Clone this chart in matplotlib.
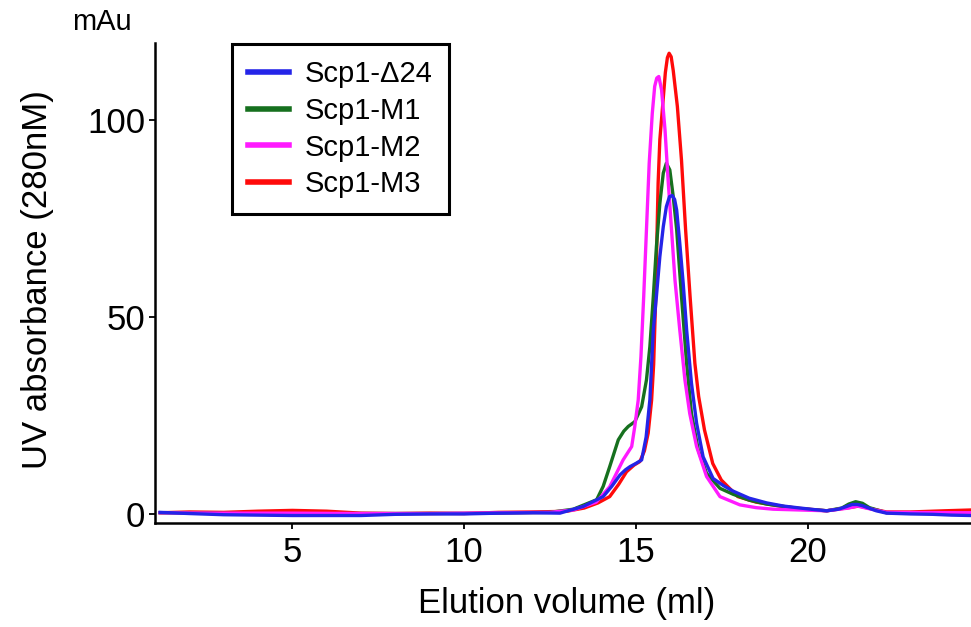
import matplotlib
matplotlib.use('Agg')
import matplotlib.pyplot as plt

plt.rcParams['font.family'] = ['Liberation Sans', 'DejaVu Sans']

# Elution profiles (ml, mAu)
delta24_x = [1.15, 2.0, 3.0, 4.0, 5.0, 6.0, 7.0, 8.0, 9.0, 10.0, 11.0, 12.0,
        12.79, 13.47, 14.05, 14.3, 14.54, 14.7, 14.83, 15.0, 15.17, 15.3,
        15.41, 15.46, 15.51, 15.60, 15.70, 15.80, 15.89, 15.98, 16.06, 16.13,
        16.19, 16.28, 16.38, 16.48, 16.62, 16.77, 16.96, 17.25, 17.55, 17.83,
        18.3, 18.81, 19.3, 19.78, 20.2, 20.56, 20.9, 21.14, 21.3, 21.45, 21.6,
        21.72, 22.0, 22.3, 23.0, 23.65, 24.2, 24.75]
delta24_y = [0.4, 0.1, -0.2, -0.3, -0.4, -0.4, -0.4, -0.1, 0.0, 0.0, 0.2, 0.3,
        0.2, 1.9, 4.4, 7.0, 9.9, 11.2, 12.0, 12.8, 13.7, 19.5,
        29.0, 38.0, 46.7, 55.2, 65.3, 72.9, 78.0, 80.5, 80.8, 79.8,
        77.1, 68.7, 58.5, 46.7, 33.2, 23.0, 14.5, 9.0, 7.2, 5.8,
        4.0, 2.8, 2.0, 1.5, 1.1, 0.8, 1.2, 1.9, 2.4, 2.4, 2.1,
        1.7, 0.8, 0.2, 0.0, -0.1, -0.3, -0.4]

m1_x = [1.15, 3.0, 5.0, 7.0, 9.0, 11.0, 12.5, 13.18, 13.86, 14.05, 14.24,
        14.49, 14.65, 14.78, 14.97, 15.17, 15.31, 15.41, 15.51, 15.60, 15.70,
        15.80, 15.89, 15.99, 16.09, 16.19, 16.33, 16.48, 16.62, 16.82, 17.06,
        17.45, 17.83, 18.3, 18.81, 19.78, 20.56, 21.0, 21.2, 21.4, 21.6, 21.8,
        22.3, 23.5, 24.75]
m1_y = [0.3, 0.1, 0.0, 0.1, 0.1, 0.2, 0.4, 1.2, 3.6, 7.0, 12.0,
        18.8, 21.0, 22.2, 23.4, 27.2, 34.0, 42.5, 55.2, 67.8, 78.8,
        86.5, 89.0, 87.3, 80.5, 72.1, 55.2, 38.2, 25.5, 16.2, 10.3,
        6.5, 5.0, 3.5, 2.5, 1.3, 0.8, 1.5, 2.5, 3.1, 2.7, 1.6,
        0.3, 0.2, 0.1]

m2_x = [1.15, 3.0, 5.0, 7.0, 9.0, 11.0, 12.5, 13.18, 13.85, 14.24, 14.63,
        14.88, 14.97, 15.07, 15.15, 15.23, 15.31, 15.39, 15.48, 15.55, 15.61,
        15.67, 15.75, 15.85, 15.94, 16.04, 16.14, 16.28, 16.43, 16.57, 16.77,
        17.06, 17.45, 18.03, 18.5, 19.0, 19.78, 20.56, 21.2, 21.45, 21.7, 22.3,
        24.75]
m2_y = [0.3, 0.2, 0.2, 0.1, 0.1, 0.3, 0.4, 1.0, 3.0, 6.9, 13.7,
        17.1, 22.2, 28.9, 40.0, 55.2, 72.1, 89.0, 101.7, 108.5, 110.6,
        111.0, 107.6, 97.5, 84.8, 72.1, 59.4, 46.7, 34.0, 25.5, 17.1,
        9.5, 4.4, 2.3, 1.6, 1.2, 1.0, 0.8, 1.5, 2.0, 1.5, 0.4,
        0.3]

m3_x = [1.15, 2.0, 3.0, 4.0, 5.0, 6.0, 7.0, 8.0, 9.0, 10.0, 11.0, 12.0, 12.6,
        13.0, 13.5, 13.9, 14.24, 14.5, 14.73, 14.95, 15.12, 15.25, 15.36,
        15.46, 15.52, 15.58, 15.62, 15.65, 15.70, 15.78, 15.86, 15.92, 15.97,
        16.03, 16.09, 16.21, 16.33, 16.45, 16.58, 16.72, 16.83, 17.0, 17.24,
        17.49, 17.97, 18.5, 19.2, 19.78, 20.56, 21.2, 21.5, 21.8, 22.3, 23.0,
        24.0, 24.75]
m3_y = [0.3, 0.5, 0.4, 0.7, 0.9, 0.7, 0.2, 0.1, 0.2, 0.1, 0.4, 0.5, 0.6,
        0.7, 1.5, 2.8, 4.4, 7.5, 10.7, 12.4, 13.3, 16.0, 20.5,
        28.9, 38.0, 55.2, 72.1, 84.0, 95.0, 103.4, 112.0, 115.8, 116.9,
        116.0, 112.5, 103.4, 89.8, 72.1, 55.2, 38.2, 29.8, 21.3, 12.8,
        8.6, 4.4, 3.0, 2.0, 1.4, 0.8, 1.6, 2.0, 1.4, 0.5, 0.5,
        0.8, 1.0]

labels = ['Scp1-\u039424', 'Scp1-M1', 'Scp1-M2', 'Scp1-M3']
colors = ['#2424e8', '#16701e', '#ff1aff', '#ff0a0a']

fig = plt.figure(figsize=(9.71, 6.27), dpi=100)
ax = fig.add_axes([155/971., 104/627., 816/971., 480/627.])

# draw order: red at the back, blue in front
series = [(delta24_x, delta24_y), (m1_x, m1_y), (m2_x, m2_y), (m3_x, m3_y)]
lines = [None]*4
for i in [3, 1, 2, 0]:
    xs, ys = series[i]
    lines[i], = ax.plot(xs, ys, color=colors[i], lw=2.4, label=labels[i],
            solid_joinstyle='round')

ax.set_xlim(1.0, 24.76)
ax.set_ylim(-2.3, 119.5)
ax.set_xticks([5, 10, 15, 20])
ax.set_yticks([0, 50, 100])

for s in ['top', 'right']:
    ax.spines[s].set_visible(False)
for s in ['left', 'bottom']:
    ax.spines[s].set_linewidth(1.8)
ax.tick_params(axis='both', labelsize=25, width=1.3, length=4)
ax.tick_params(axis='x', pad=5)
ax.tick_params(axis='y', pad=3)

fig.text(567/971., 1 - 603/627., 'Elution volume (ml)', fontsize=25,
        ha='center', va='center')
fig.text(38/971., 1 - 280/627., 'UV absorbance (280nM)', fontsize=25,
        ha='center', va='center', rotation=90)
fig.text(102/971., 1 - 22/627., 'mAu', fontsize=21, ha='center', va='center')

leg = ax.legend(handles=lines, loc='upper left', bbox_to_anchor=(0.094, 0.998),
        borderaxespad=0, fontsize=21, fancybox=False, framealpha=1,
        edgecolor='black', handlelength=1.4, handletextpad=0.55,
        labelspacing=0.3, borderpad=0.55)
leg.get_frame().set_linewidth(2.2)
for h in leg.get_lines():
    h.set_linewidth(4)

fig.savefig('out.png', dpi=100)
